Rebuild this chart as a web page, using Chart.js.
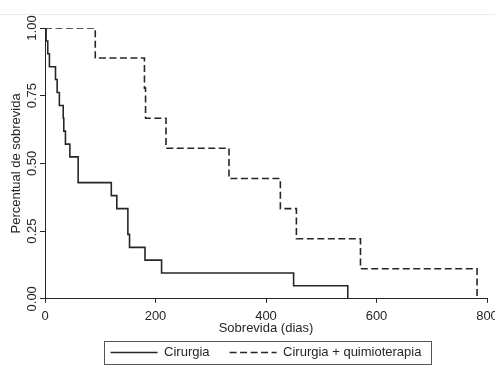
<!DOCTYPE html>
<html><head><meta charset="utf-8">
<script src="https://cdn.jsdelivr.net/npm/chart.js@4/dist/chart.umd.min.js"></script>
<style>html,body{margin:0;padding:0;background:#fff;}#wrap{width:495px;height:376px;position:relative;}</style>
</head><body><div id="wrap"><canvas id="c" width="495" height="376"></canvas></div>
<script>
// Kaplan-Meier estimates
const cirurgiaDias   = [0, 2, 5, 8, 19, 22, 26, 33, 34, 37, 45, 60, 120, 130, 150, 153, 181, 211, 450, 548];
const cirurgiaSobrev = [1, 0.952, 0.905, 0.857, 0.810, 0.762, 0.714, 0.667, 0.619, 0.571, 0.524, 0.429, 0.381, 0.333, 0.238, 0.190, 0.143, 0.095, 0.048, 0];
const quimioDias     = [0, 91, 180, 182, 219, 333, 426, 455, 571, 782];
const quimioSobrev   = [1, 0.889, 0.778, 0.667, 0.556, 0.444, 0.333, 0.222, 0.111, 0];
const seriesNames = ['Cirurgia', 'Cirurgia + quimioterapia'];
const xTickValues = [0, 200, 400, 600, 800];
const yTickValues = [0, 0.25, 0.5, 0.75, 1];
const yTickLabels = ['0.00', '0.25', '0.50', '0.75', '1.00'];
const xTitle = 'Sobrevida (dias)';
const yTitle = 'Percentual de sobrevida';

const INK = '#262626';
const DASH = [7, 3.5];
const FS = 13;
Chart.defaults.font.family = '"Liberation Sans", Arial, sans-serif';
Chart.defaults.font.size = FS;
Chart.defaults.color = INK;

const toPts = (xs, ys) => xs.map((x, i) => ({x: x, y: ys[i]}));

const LEG_PAD = 20, LEG_BOX = 47, LEG_CENTER_Y = 352.5;

const topLine = {
  id: 'topLine',
  beforeDraw(chart) {
    const ctx = chart.ctx;
    ctx.save();
    ctx.fillStyle = '#fff';
    ctx.fillRect(0, 0, chart.width, chart.height);
    ctx.strokeStyle = '#ececec';
    ctx.lineWidth = 1;
    ctx.beginPath(); ctx.moveTo(0, 14.5); ctx.lineTo(chart.width, 14.5); ctx.stroke();
    ctx.restore();
  }
};

const legendFrame = {
  id: 'legendFrame',
  afterLayout(chart) {
    const lg = chart.legend;
    const ca = chart.chartArea;
    const dx = (ca.left + ca.right) / 2 - (lg.left + lg.right) / 2;
    lg.left += dx; lg.right += dx;
    const dy = (LEG_CENTER_Y - LEG_PAD - FS / 2) - lg.top;
    lg.top += dy; lg.bottom += dy;
  },
  afterDraw(chart) {
    const lg = chart.legend;
    const ctx = chart.ctx;
    ctx.save();
    ctx.font = FS + 'px "Liberation Sans", Arial, sans-serif';
    let total = 0;
    seriesNames.forEach((n, i) => { total += LEG_BOX + FS / 2 + ctx.measureText(n).width + (i ? LEG_PAD : 0); });
    const cx = (lg.left + lg.right) / 2;
    const l = cx - total / 2 - 7, r = cx + total / 2 + 9;
    const t = LEG_CENTER_Y - 11.5, b = LEG_CENTER_Y + 11.5;
    ctx.strokeStyle = '#555';
    ctx.lineWidth = 1;
    ctx.strokeRect(Math.round(l) + 0.5, Math.round(t) + 0.5, Math.round(r - l), Math.round(b - t));
    ctx.restore();
  }
};

new Chart(document.getElementById('c'), {
  type: 'line',
  data: {
    datasets: [
      { label: seriesNames[0], data: toPts(cirurgiaDias, cirurgiaSobrev), stepped: 'before',
        borderColor: INK, backgroundColor: INK, borderWidth: 1.6, pointRadius: 0, fill: false },
      { label: seriesNames[1], data: toPts(quimioDias, quimioSobrev), stepped: 'before',
        borderColor: INK, backgroundColor: INK, borderWidth: 1.6, borderDash: DASH, pointRadius: 0, fill: false }
    ]
  },
  options: {
    responsive: false,
    devicePixelRatio: 1,
    animation: false,
    layout: { padding: { top: 28, right: 8, left: 0, bottom: -3 } },
    plugins: {
      tooltip: { enabled: false },
      legend: {
        display: true, position: 'bottom',
        labels: {
          usePointStyle: true, pointStyle: 'line', pointStyleWidth: LEG_BOX, boxHeight: 12,
          padding: LEG_PAD, font: { size: FS }, color: INK,
          generateLabels: chart => {
            const items = Chart.defaults.plugins.legend.labels.generateLabels(chart);
            items.forEach(it => {
              const ds = chart.data.datasets[it.datasetIndex];
              it.lineDash = ds.borderDash || [];
              it.lineWidth = ds.borderWidth;
              it.strokeStyle = ds.borderColor;
              it.pointStyle = 'line';
            });
            return items;
          }
        }
      }
    },
    scales: {
      x: {
        type: 'linear', min: 0, max: 800,
        afterBuildTicks: s => { s.ticks = xTickValues.map(v => ({ value: v })); },
        afterFit: s => { s.paddingLeft = 0; s.paddingRight = 0; },
        ticks: { maxRotation: 0, minRotation: 0, padding: 6, color: INK, font: { size: FS } },
        grid: { drawOnChartArea: false, drawTicks: true, tickLength: 4, color: INK },
        border: { display: true, color: INK, width: 1 },
        title: { display: true, text: xTitle, color: INK, font: { size: FS }, padding: { top: -10, bottom: 0 } }
      },
      y: {
        type: 'linear', min: 0, max: 1,
        afterBuildTicks: s => { s.ticks = yTickValues.map(v => ({ value: v })); },
        afterFit: s => { s.width = 45; s.paddingTop = 0; s.paddingBottom = 0; },
        ticks: { callback: v => yTickLabels[yTickValues.indexOf(v)], minRotation: 90, maxRotation: 90,
                 crossAlign: 'center', padding: -5, color: INK, font: { size: FS } },
        grid: { drawOnChartArea: false, drawTicks: true, tickLength: 5, color: INK },
        border: { display: true, color: INK, width: 1 },
        title: { display: true, text: yTitle, color: INK, font: { size: FS }, padding: { top: 9, bottom: 0 } }
      }
    }
  },
  plugins: [topLine, legendFrame]
});
</script></body></html>
